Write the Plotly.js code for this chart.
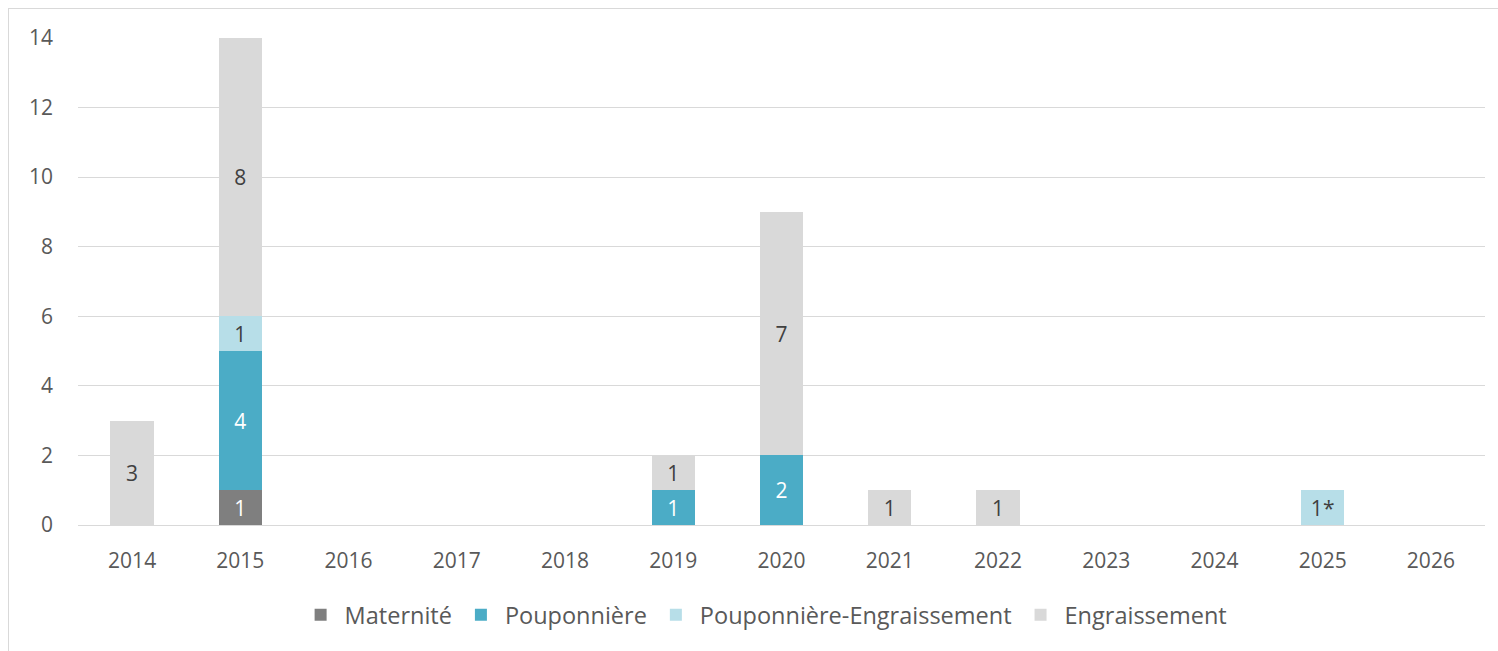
<!DOCTYPE html>
<html>
<head>
<meta charset="utf-8">
<script src="https://cdn.plot.ly/plotly-3.0.1.min.js"></script>
<style>
  html, body { margin: 0; padding: 0; background: #ffffff; overflow: hidden; }
  #frame { position: absolute; left: 8px; top: 8px; width: 1500px; height: 680px; border: 1px solid #d9d9d9; box-sizing: border-box; }
  #chart { position: absolute; left: 0; top: 0; width: 1498px; height: 651px; }
</style>
</head>
<body>
<div id="frame"></div>
<div id="chart"></div>
<script>
const years = ['2014','2015','2016','2017','2018','2019','2020','2021','2022','2023','2024','2025','2026'];
const maternite = [0,1,0,0,0,0,0,0,0,0,0,0,0];
const pouponniere = [0,4,0,0,0,1,2,0,0,0,0,0,0];
const poupEngr = [0,1,0,0,0,0,0,0,0,0,0,1,0];
const engraissement = [3,8,0,0,0,1,7,1,1,0,0,0,0];
const poupEngrLabels = ['','1','','','','','','','','','','1*',''];

const names = ['Maternité','Pouponnière','Pouponnière-Engraissement','Engraissement'];
const colors = ['#7f7f7f','#4bacc6','#b7dee8','#d9d9d9'];
const textColors = ['#ffffff','#ffffff','#404040','#404040'];
const series = [maternite, pouponniere, poupEngr, engraissement];
const lbl = v => v.map(x => x ? String(x) : '');
const labels = [lbl(maternite), lbl(pouponniere), poupEngrLabels, lbl(engraissement)];

const font = "'Open Sans', Lato, sans-serif";
const traces = series.map((s, i) => ({
  type: 'bar',
  name: names[i],
  x: years,
  y: s,
  text: labels[i],
  textposition: 'inside',
  insidetextanchor: 'middle',
  textangle: 0,
  constraintext: 'none',
  textfont: { family: font, size: 21, color: textColors[i] },
  marker: { color: colors[i], line: { width: 0 } },
  hoverinfo: 'skip'
}));

const layout = {
  width: 1498, height: 651,
  margin: { l: 78, r: 13, t: 38, b: 126 },
  barmode: 'stack',
  bargap: 0.6,
  paper_bgcolor: 'rgba(0,0,0,0)',
  plot_bgcolor: 'rgba(0,0,0,0)',
  font: { family: font, size: 21, color: '#595959' },
  xaxis: {
    type: 'category',
    showgrid: false,
    showline: false,
    zeroline: false,
    ticks: '',
    ticklabelstandoff: 21,
    tickfont: { family: font, size: 21, color: '#595959' }
  },
  yaxis: {
    range: [0, 14],
    dtick: 2,
    showgrid: true,
    gridcolor: '#d9d9d9',
    gridwidth: 1,
    zeroline: true,
    zerolinecolor: '#d9d9d9',
    zerolinewidth: 1,
    showline: false,
    ticks: '',
    ticklabelstandoff: 24,
    tickfont: { family: font, size: 21, color: '#595959' }
  },
  legend: {
    orientation: 'h',
    x: 0.488, xanchor: 'center',
    y: -0.185, yanchor: 'middle',
    font: { family: font, size: 23.5, color: '#595959' },
    itemwidth: 38,
    traceorder: 'normal'
  },
  showlegend: true
};

Plotly.newPlot('chart', traces, layout, { displayModeBar: false, staticPlot: true });
</script>
</body>
</html>
